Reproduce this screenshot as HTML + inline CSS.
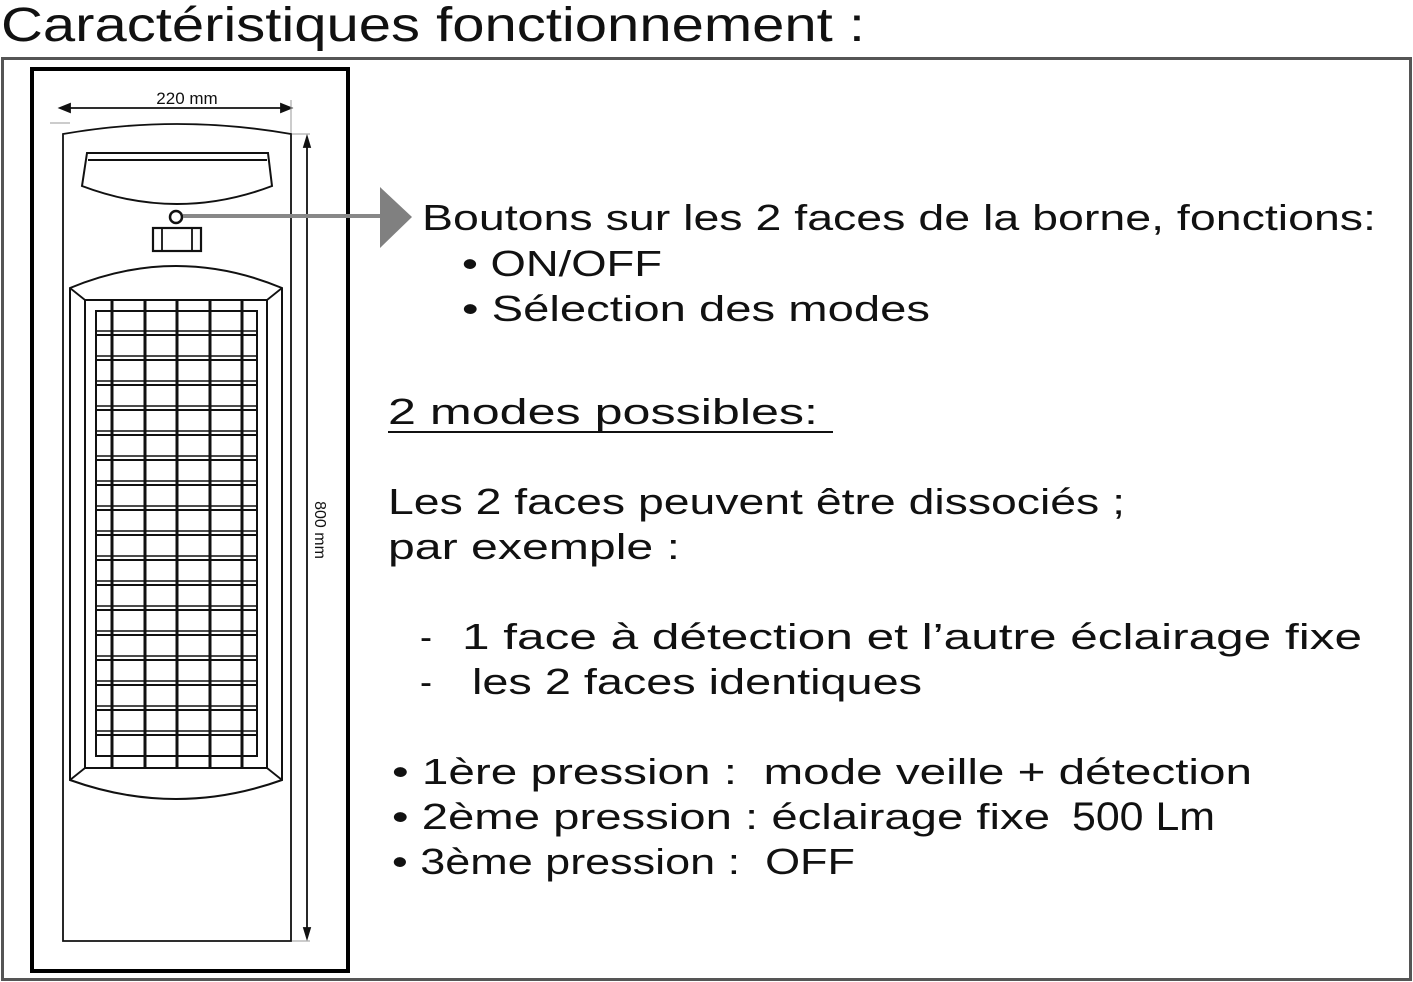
<!DOCTYPE html>
<html><head><meta charset="utf-8"><style>
html,body{margin:0;padding:0;background:#fff;}
svg{display:block;}
text{font-family:"Liberation Sans",sans-serif;fill:#111;white-space:pre;}
</style></head><body>
<svg width="1413" height="982" viewBox="0 0 1413 982" xmlns="http://www.w3.org/2000/svg" xml:space="preserve">
<text x="1" y="41" font-size="48" textLength="864" lengthAdjust="spacingAndGlyphs">Caractéristiques fonctionnement :</text>
<rect x="2.5" y="58.5" width="1408" height="921" fill="none" stroke="#555" stroke-width="3"/>
<rect x="32" y="69" width="316" height="902" fill="none" stroke="#000" stroke-width="4"/>

<g stroke="#111" fill="none" stroke-width="1.8">
<line x1="60" y1="108" x2="291" y2="108"/>
<path d="M60 108 l10 -4 v8z M291 108 l-10 -4 v8z" fill="#111"/>
<line x1="291" y1="100" x2="291" y2="134" stroke="#999" stroke-width="1"/>
<line x1="50" y1="123" x2="70" y2="123" stroke="#999" stroke-width="1"/>
<line x1="307" y1="137" x2="307" y2="938"/>
<path d="M307 137 l-3 10 h6z M307 938 l-3 -10 h6z" fill="#111"/>
<line x1="292" y1="134" x2="310" y2="134" stroke="#999" stroke-width="1"/>
<line x1="292" y1="941" x2="310" y2="941" stroke="#999" stroke-width="1"/>
<path d="M63 134 Q177 114 291 134 V941 H63 Z"/>
<path d="M87 153 H268 L272 186 Q177 222 82 186 Z" stroke-width="2"/>
<line x1="88" y1="160" x2="267" y2="160" stroke-width="2"/>
<circle cx="176" cy="217" r="6" stroke-width="2.5"/>
<rect x="153" y="228" width="48" height="23" stroke-width="2.2"/>
<line x1="162" y1="228" x2="162" y2="251"/><line x1="192" y1="228" x2="192" y2="251"/>
<path d="M70 288 Q176 244 282 288 V780 Q176 818 70 780 Z" stroke-width="2"/>
<path d="M85 300 H267 V768 H85 Z" stroke-width="2"/>
<line x1="70" y1="288" x2="85" y2="300"/><line x1="282" y1="288" x2="267" y2="300"/>
<line x1="70" y1="780" x2="85" y2="768"/><line x1="282" y1="780" x2="267" y2="768"/>
</g>
<g stroke="#111" fill="none" stroke-width="2">
<rect x="96" y="311" width="161" height="445"/>
<path d="M96 335H257M96 360H257M96 385H257M96 410H257M96 435H257M96 460H257M96 485H257M96 510H257M96 535H257M96 560H257M96 585H257M96 610H257M96 635H257M96 660H257M96 685H257M96 710H257M96 735H257"/>
<path d="M96 331H257M96 356H257M96 381H257M96 406H257M96 431H257M96 456H257M96 481H257M96 506H257M96 531H257M96 556H257M96 581H257M96 606H257M96 631H257M96 656H257M96 681H257M96 706H257M96 731H257" stroke-width="1.4"/>
<path d="M112 300V768M145 300V768M177 300V768M210 300V768M242 300V768" stroke-width="3"/>
</g>
<line x1="183" y1="216" x2="384" y2="216" stroke="#888" stroke-width="4"/>
<path d="M380 187 L412 217 L380 248 Z" fill="#808080"/>

<text x="315" y="530" font-size="16" transform="rotate(90 315 530)" text-anchor="middle">800 mm</text>
<text x="187" y="104" font-size="17" text-anchor="middle">220 mm</text>

<g font-size="36">
<text x="422" y="230" textLength="954" lengthAdjust="spacingAndGlyphs">Boutons sur les 2 faces de la borne, fonctions:</text>
<text x="462" y="276" textLength="200" lengthAdjust="spacingAndGlyphs">• ON/OFF</text>
<text x="462" y="321" textLength="468" lengthAdjust="spacingAndGlyphs">• Sélection des modes</text>
<text x="388" y="424" textLength="430" lengthAdjust="spacingAndGlyphs">2 modes possibles:</text>
<line x1="388" y1="432" x2="833" y2="432" stroke="#111" stroke-width="2"/>
<text x="388" y="514" textLength="737" lengthAdjust="spacingAndGlyphs">Les 2 faces peuvent être dissociés ;</text>
<text x="388" y="559" textLength="292" lengthAdjust="spacingAndGlyphs">par exemple :</text>
<text x="420" y="649">-</text>
<text x="462" y="649" textLength="900" lengthAdjust="spacingAndGlyphs">1 face à détection et l’autre éclairage fixe</text>
<text x="420" y="694">-</text>
<text x="472" y="694" textLength="450" lengthAdjust="spacingAndGlyphs">les 2 faces identiques</text>
<text x="392" y="784" textLength="860" lengthAdjust="spacingAndGlyphs">• 1ère pression :  mode veille + détection</text>
<text x="392" y="829" textLength="658" lengthAdjust="spacingAndGlyphs">• 2ème pression : éclairage fixe</text>
<text x="1072" y="830" font-size="40" textLength="143" lengthAdjust="spacingAndGlyphs" fill="#000">500 Lm</text>
<text x="392" y="874" textLength="463" lengthAdjust="spacingAndGlyphs">• 3ème pression :  OFF</text>
</g>
</svg>
</body></html>
